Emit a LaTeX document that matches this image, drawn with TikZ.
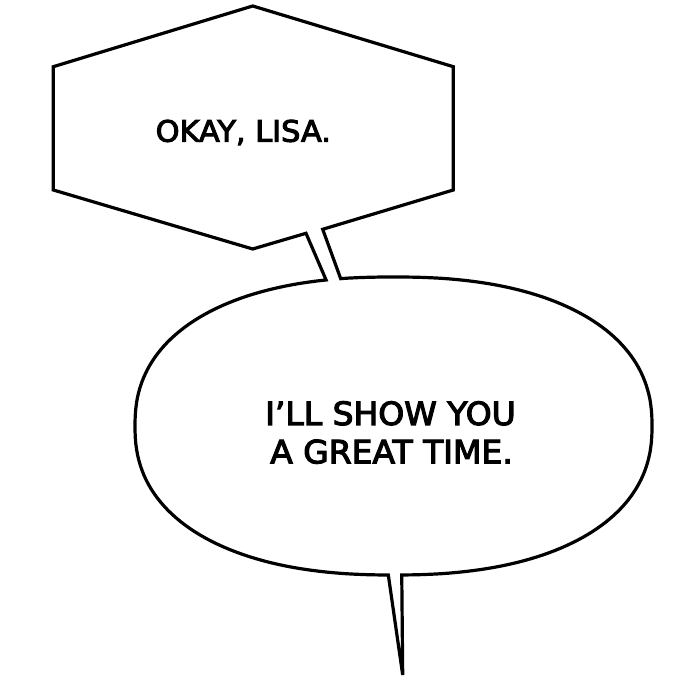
\documentclass[tikz,border=0pt]{standalone}
\usepackage{fontspec}
\setmainfont{DejaVu Sans}[FakeBold=3.5, FakeStretch=1.03]
\begin{document}
\begin{tikzpicture}[x=1pt,y=1pt,
  declare function={sp(\a)=sign(\a)*pow(abs(\a)+0.000001,0.8696);},
  bubble/.style={draw=black, fill=white, line width=3.2pt, line join=miter},
  lettering/.style={inner sep=0pt, anchor=base, text=black}]
\fill[white] (0,0) rectangle (700,679);
\useasboundingbox (0,0) rectangle (700,679);
% hexagon corners
\coordinate (H1) at (252.7,673);
\coordinate (H2) at (53.3,612.3);
\coordinate (H3) at (53.3,489);
\coordinate (H4) at (252.7,430);
\coordinate (H5) at (453.3,489);
\coordinate (H6) at (453.3,612.3);
% tail between bubbles
\coordinate (T1) at (306,445.7);
\coordinate (T2) at (322.7,449.7);
\coordinate (A) at ({393.5+258.5*sp(cos(102.3))},{253+149*sp(sin(102.3))});
% bottom tail tip
\coordinate (Tip) at (402.7,4);
\draw[bubble] (T2) -- (H5) -- (H6) -- (H1) -- (H2) -- (H3) -- (H4) -- (T1) -- (A)
  -- plot[domain=102.3:269.36,samples=90,variable=\t]
     ({393.5+258.5*sp(cos(\t))},{253+149*sp(sin(\t))})
  -- (Tip)
  -- plot[domain=271.08:459.2,samples=110,variable=\t]
     ({393.5+258.5*sp(cos(\t))},{253+149*sp(sin(\t))})
  -- cycle;
\node[lettering, font=\fontsize{29.5}{35}\selectfont] (okay) at (243.3,537.3) {OKAY, LISA.};
\node[lettering, font=\fontsize{32}{38.3}\selectfont] (line1) at (390.5,254) {I’LL SHOW YOU};
\node[lettering, font=\fontsize{32}{38.3}\selectfont] (line2) at (391.5,215.7) {A GREAT TIME.};
\end{tikzpicture}
\end{document}
